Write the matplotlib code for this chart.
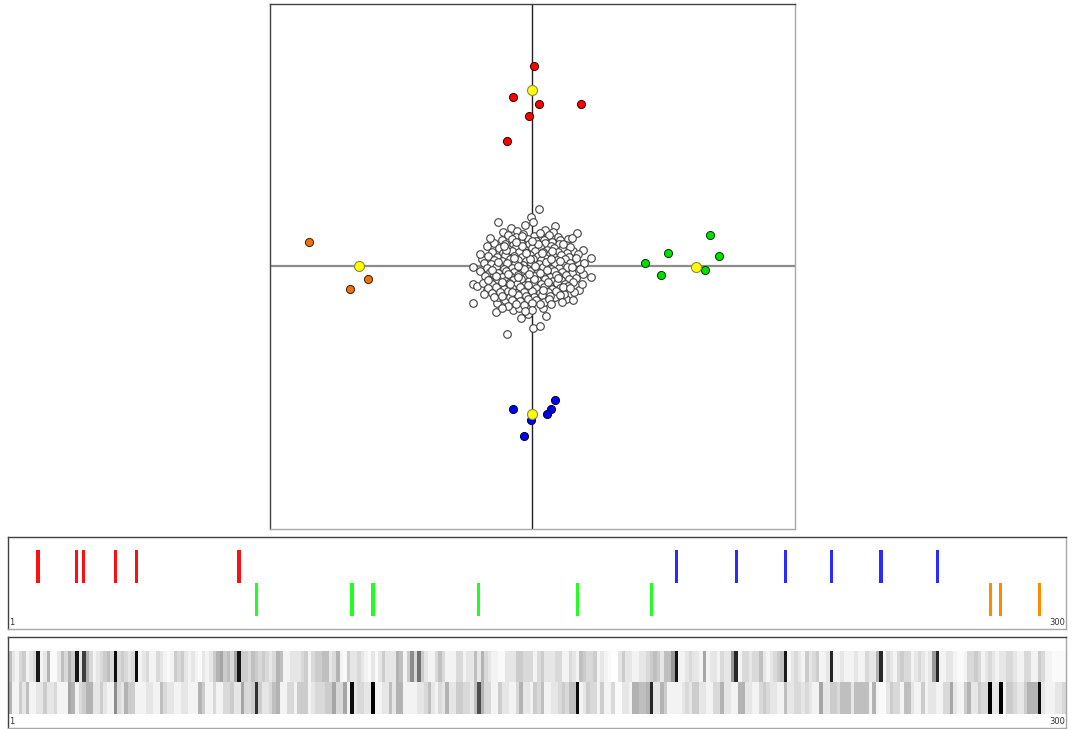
import numpy as np
import matplotlib
matplotlib.use("Agg")
import matplotlib.pyplot as plt

# ---- scatter data (score units, origin at the cross) ----
red_x = [2, -19, 7, 49, -3, -25]
red_y = [200, 169, 162, 162, 150, 125]
green_x = [113, 136, 129, 178, 187, 173]
green_y = [3, 13, -9, 31, 10, -4]
blue_x = [-19, 23, 19, 15, -1, -8]
blue_y = [-143, -134, -143, -148, -154, -170]
orange_x = [-223, -164, -182]
orange_y = [24, -13, -23]
yellow_x = [0, 164, 0, -173]
yellow_y = [176, -1, -148, 0]

cluster_pts = [
    (7, 57), (-1, 49), (1, 44), (-34, 44), (45, 33), (23, 40), (21, 34), (13, 36), (-21, 38), (-29, 34),
    (-15, 35), (-7, 41), (-45, 20), (51, 16), (59, 8), (41, 15), (33, 22), (-59, -1), (-50, 7), (-59, -18),
    (-55, -20), (-59, -37), (-35, -37), (-36, -46), (-19, -44), (-13, -42), (-4, -48), (11, -42), (1, -62), (8, -60),
    (-25, -68), (51, -8), (59, -11), (47, -24), (42, -26), (34, -33), (41, -34), (23, -31), (45, 4), (41, 6),
    (-27, -34), (-34, -31), (-45, -24),
    (-24, 31), (-16, 29), (-9, 32), (2, 30), (10, 28), (17, 31), (26, 29),
    (-30, 26), (-20, 27), (-12, 25), (-4, 27), (4, 25), (12, 26), (20, 24), (28, 26), (36, 27),
    (-38, 23), (-27, 22), (-19, 21), (-11, 23), (-3, 22), (5, 21), (13, 23), (19, 20), (27, 22), (34, 21),
    (-33, 18), (-24, 17), (-16, 19), (-8, 17), (0, 18), (8, 19), (15, 16), (22, 18), (30, 17), (38, 19),
    (-40, 14), (-29, 13), (-20, 15), (-13, 14), (-5, 13), (3, 15), (11, 14), (18, 12), (26, 14), (35, 13), (46, 12),
    (-44, 10), (-35, 9), (-27, 11), (-18, 10), (-10, 9), (-2, 11), (6, 10), (13, 8), (21, 10), (29, 11), (37, 9),
    (-38, 6), (-30, 5), (-22, 7), (-14, 6), (-6, 5), (1, 7), (9, 6), (17, 4), (25, 6), (33, 7), (52, 3),
    (-48, 3), (-41, 2), (-33, 1), (-25, 3), (-17, 2), (-9, 1), (-1, 3), (7, 2), (15, 0), (23, 2), (31, 1), (38, 3),
    (-45, -2), (-36, -1), (-28, -3), (-20, -2), (-12, -1), (-4, -3), (4, -2), (11, -1), (19, -3), (27, -2), (35, -1), (48, -3),
    (-52, -5), (-42, -6), (-34, -7), (-26, -5), (-18, -6), (-10, -7), (-2, -5), (6, -6), (14, -8), (22, -5), (30, -6), (40, -7),
    (-47, -10), (-38, -9), (-30, -11), (-22, -10), (-14, -9), (-6, -11), (2, -10), (10, -9), (18, -11), (26, -10), (34, -9), (44, -12),
    (-43, -14), (-35, -13), (-27, -15), (-19, -14), (-11, -13), (-3, -15), (5, -14), (13, -13), (21, -15), (29, -14), (37, -13),
    (-49, -17), (-40, -18), (-31, -19), (-23, -17), (-15, -18), (-7, -19), (1, -17), (9, -18), (17, -19), (25, -17), (33, -18), (41, -16),
    (-44, -22), (-36, -21), (-28, -23), (-20, -22), (-12, -21), (-4, -23), (4, -22), (12, -21), (20, -23), (28, -22), (36, -20),
    (-40, -27), (-32, -26), (-24, -25), (-16, -27), (-8, -26), (0, -25), (8, -27), (16, -26), (24, -25), (32, -28),
    (-30, -30), (-22, -31), (-14, -29), (-6, -30), (2, -31), (10, -29), (18, -30), (28, -29),
    (-20, -34), (-12, -35), (-4, -33), (4, -34), (12, -36), (17, -33),
    (-16, -38), (-8, -39), (0, -37), (8, -38), (-24, -40),
    (-26, 16), (-10, 20), (6, 22), (20, 15), (-34, 4), (-18, 8), (-2, 7), (14, 4), (28, 5), (-40, -4),
    (-24, -8), (-8, -3), (8, -7), (24, -9), (40, -1), (-30, -16), (-14, -11), (2, -13), (16, -16), (31, -21),
    (-20, -26), (-4, -19), (11, -24), (-36, -10), (19, 7), (-6, 13), (-14, 0), (3, 0), (26, -12), (-22, -18),
    (10, 13), (-28, 20), (31, 22), (-44, -14), (44, 8), (-16, 24), (0, 25), (15, -4), (-3, -8), (-10, 30),
    (8, 33), (-38, -31), (38, -22), (-52, 12), (50, -18), (0, -44), (-7, -45), (19, -38), (30, -36), (-30, -42),
    (-42, 28), (40, 28), (-11, -52), (14, -50), (-48, -28),
]

# ---- sequence positions (0-based, 300 items) ----
n_items = 300
red_idx = [8, 19, 21, 30, 36, 65]
green_idx = [70, 97, 103, 133, 161, 182]
blue_idx = [189, 206, 220, 233, 247, 263]
orange_idx = [278, 281, 292]

# ---- heatmap intensities (0 = white, 1 = black) ----
heat_top = [
    0.25, 0.1, 0.05, 0.15, 0.2, 0.05, 0.1, 0.15, 0.9, 0.05,
    0.1, 0.3, 0.02, 0.02, 0.1, 0.25, 0.15, 0.3, 0.2, 0.92,
    0.1, 0.75, 0.3, 0.15, 0.05, 0.1, 0.15, 0.2, 0.25, 0.15,
    0.95, 0.15, 0.2, 0.15, 0.1, 0.15, 0.95, 0.05, 0.1, 0.15,
    0.05, 0.05, 0.15, 0.1, 0.05, 0.02, 0.05, 0.2, 0.15, 0.2,
    0.1, 0.05, 0.1, 0.05, 0.02, 0.1, 0.05, 0.1, 0.2, 0.3,
    0.35, 0.2, 0.25, 0.15, 0.35, 0.92, 0.2, 0.2, 0.15, 0.25,
    0.2, 0.15, 0.2, 0.15, 0.1,
    0.15, 0.3, 0.25, 0.05, 0.05, 0.1, 0.1, 0.1, 0.15, 0.2,
    0.05, 0.15, 0.2, 0.2, 0.25, 0.25, 0.1, 0.15, 0.3, 0.05,
    0.02, 0.2, 0.1, 0.1, 0.15, 0.1, 0.05, 0.02, 0.1, 0.02,
    0.1, 0.2, 0.1, 0.1, 0.1, 0.3, 0.25, 0.05, 0.2, 0.45,
    0.15, 0.55, 0.2, 0.1, 0.05, 0.05, 0.15, 0.25, 0.15, 0.05,
    0.05, 0.05, 0.15, 0.15, 0.05, 0.1, 0.1, 0.25, 0.1, 0.3,
    0.15, 0.1, 0.05, 0.05, 0.02, 0.02, 0.1, 0.1, 0.1, 0.2,
    0.2, 0.15, 0.15, 0.15, 0.05,
    0.15, 0.2, 0.1, 0.1, 0.1, 0.15, 0.15, 0.05, 0.05, 0.15,
    0.1, 0.05, 0.25, 0.2, 0.15, 0.15, 0.2, 0.05, 0.1, 0.05,
    0.02, 0.0, 0.0, 0.1, 0.2, 0.1, 0.1, 0.05, 0.05, 0.1,
    0.1, 0.15, 0.2, 0.25, 0.2, 0.1, 0.25, 0.25, 0.4, 0.92,
    0.05, 0.05, 0.1, 0.15, 0.1, 0.1, 0.05, 0.35, 0.05, 0.1,
    0.1, 0.05, 0.15, 0.1, 0.1, 0.4, 0.85, 0.05, 0.15, 0.15,
    0.1, 0.15, 0.15, 0.25, 0.1, 0.05, 0.1, 0.15, 0.2, 0.25,
    0.9, 0.05, 0.1, 0.15, 0.1,
    0.05, 0.2, 0.1, 0.15, 0.2, 0.05, 0.05, 0.1, 0.85, 0.05,
    0.05, 0.1, 0.05, 0.05, 0.05, 0.1, 0.05, 0.05, 0.15, 0.1,
    0.1, 0.3, 0.85, 0.05, 0.15, 0.1, 0.05, 0.15, 0.2, 0.15,
    0.15, 0.05, 0.1, 0.15, 0.1, 0.05, 0.1, 0.4, 0.85, 0.05,
    0.05, 0.1, 0.1, 0.05, 0.02, 0.02, 0.05, 0.15, 0.15, 0.2,
    0.15, 0.05, 0.1, 0.15, 0.1, 0.05, 0.1, 0.1, 0.15, 0.15,
    0.1, 0.05, 0.05, 0.15, 0.15, 0.05, 0.05, 0.2, 0.15, 0.05,
    0.05, 0.02, 0.02, 0.02, 0.02,
]
heat_bottom = [
    0.3, 0.05, 0.05, 0.2, 0.1, 0.25, 0.05, 0.05, 0.1, 0.1,
    0.2, 0.1, 0.1, 0.15, 0.05, 0.05, 0.05, 0.35, 0.3, 0.05,
    0.15, 0.2, 0.3, 0.3, 0.1, 0.1, 0.2, 0.1, 0.05, 0.05,
    0.45, 0.15, 0.1, 0.3, 0.2, 0.2, 0.05, 0.05, 0.05, 0.1,
    0.1, 0.05, 0.05, 0.25, 0.15, 0.1, 0.1, 0.05, 0.05, 0.1,
    0.1, 0.05, 0.05, 0.05, 0.3, 0.2, 0.05, 0.05, 0.15, 0.05,
    0.05, 0.15, 0.15, 0.2, 0.1, 0.1, 0.35, 0.15, 0.15, 0.2,
    0.8, 0.2, 0.1, 0.1, 0.15,
    0.25, 0.3, 0.05, 0.05, 0.15, 0.15, 0.05, 0.2, 0.2, 0.2,
    0.05, 0.1, 0.15, 0.15, 0.15, 0.2, 0.2, 0.35, 0.15, 0.15,
    0.35, 0.05, 0.95, 0.1, 0.15, 0.15, 0.1, 0.1, 1.0, 0.05,
    0.05, 0.1, 0.1, 0.25, 0.1, 0.3, 0.3, 0.05, 0.05, 0.05,
    0.05, 0.1, 0.1, 0.15, 0.25, 0.1, 0.05, 0.15, 0.1, 0.3,
    0.1, 0.1, 0.2, 0.2, 0.15, 0.15, 0.1, 0.25, 0.7, 0.3,
    0.15, 0.15, 0.05, 0.05, 0.2, 0.1, 0.1, 0.05, 0.05, 0.15,
    0.3, 0.1, 0.1, 0.05, 0.2,
    0.15, 0.25, 0.05, 0.05, 0.1, 0.1, 0.15, 0.2, 0.15, 0.25,
    0.25, 0.95, 0.05, 0.1, 0.2, 0.15, 0.15, 0.05, 0.2, 0.05,
    0.05, 0.15, 0.02, 0.02, 0.1, 0.1, 0.05, 0.3, 0.3, 0.25,
    0.25, 0.3, 0.85, 0.1, 0.1, 0.3, 0.2, 0.05, 0.05, 0.05,
    0.05, 0.1, 0.15, 0.1, 0.2, 0.2, 0.1, 0.1, 0.05, 0.05,
    0.15, 0.15, 0.3, 0.1, 0.1, 0.05, 0.05, 0.3, 0.3, 0.1,
    0.1, 0.05, 0.05, 0.15, 0.2, 0.15, 0.1, 0.1, 0.05, 0.05,
    0.25, 0.1, 0.1, 0.15, 0.15,
    0.1, 0.15, 0.1, 0.05, 0.05, 0.35, 0.1, 0.1, 0.2, 0.2,
    0.15, 0.25, 0.25, 0.25, 0.1, 0.25, 0.25, 0.25, 0.25, 0.05,
    0.3, 0.05, 0.02, 0.02, 0.1, 0.2, 0.15, 0.15, 0.05, 0.25,
    0.25, 0.1, 0.05, 0.05, 0.2, 0.05, 0.1, 0.1, 0.05, 0.05,
    0.15, 0.15, 0.35, 0.1, 0.05, 0.05, 0.2, 0.3, 0.1, 0.1,
    0.2, 0.15, 0.15, 1.0, 0.1, 0.1, 1.0, 0.05, 0.2, 0.2,
    0.15, 0.1, 0.1, 0.2, 0.3, 0.3, 0.3, 0.95, 0.1, 0.05,
    0.05, 0.05, 0.1, 0.1, 0.15,
]


def panel_frame(ax):
    ax.set_xticks([])
    ax.set_yticks([])
    for side in ("top", "left"):
        ax.spines[side].set_color("#404040")
    for side in ("bottom", "right"):
        ax.spines[side].set_color("#a8a8a8")
    for sp in ax.spines.values():
        sp.set_linewidth(1.0)


def main():
    W, H = 1074, 729
    fig = plt.figure(figsize=(W / 100, H / 100), dpi=100)

    # scatter panel
    ax = fig.add_axes([270 / W, 1 - 529 / H, 525 / W, 525 / H])
    ax.set_xlim(-262, 263)
    ax.set_ylim(-263, 262)
    panel_frame(ax)
    ax.axhline(0, color="#8c8c8c", lw=1.6, zorder=1)
    ax.axvline(0, color="#202020", lw=1.0, zorder=1)
    pts = np.array(cluster_pts)
    ax.scatter(pts[:, 0], pts[:, 1], s=30, facecolor="white", edgecolor="#404040", linewidth=0.8, zorder=2)
    ax.scatter(red_x, red_y, s=34, facecolor="#ff0000", edgecolor="#3a0000", linewidth=0.7, zorder=3)
    ax.scatter(green_x, green_y, s=34, facecolor="#00e000", edgecolor="#003a00", linewidth=0.7, zorder=3)
    ax.scatter(blue_x, blue_y, s=34, facecolor="#0000ee", edgecolor="#00003a", linewidth=0.7, zorder=3)
    ax.scatter(orange_x, orange_y, s=34, facecolor="#f07010", edgecolor="#3a2000", linewidth=0.7, zorder=3)
    ax.scatter(yellow_x, yellow_y, s=52, facecolor="#ffff00", edgecolor="#8a8a40", linewidth=0.8, zorder=4)

    # stick panel
    ax2 = fig.add_axes([8 / W, 1 - 629 / H, 1058 / W, 92 / H])
    ax2.set_xlim(0, n_items)
    ax2.set_ylim(0, 92)
    panel_frame(ax2)
    for idx, color, base in [(red_idx, "#ff1010", 46), (blue_idx, "#2a2aff", 46),
                             (green_idx, "#20ff20", 13), (orange_idx, "#ff8a00", 13)]:
        ax2.bar(np.array(idx) + 0.5, 33, bottom=base, width=0.95, color=color, linewidth=0)
    ax2.text(0.001, 0.02, "1", transform=ax2.transAxes, ha="left", va="bottom", fontsize=6, color="#333333")
    ax2.text(0.999, 0.02, "300", transform=ax2.transAxes, ha="right", va="bottom", fontsize=6, color="#333333")

    # heatmap panel
    ax3 = fig.add_axes([8 / W, 1 - 728 / H, 1058 / W, 91 / H])
    ax3.set_xlim(0, n_items)
    ax3.set_ylim(0, 91)
    panel_frame(ax3)
    grid = np.array([heat_top, heat_bottom])
    ax3.imshow(grid, cmap="gray_r", vmin=0, vmax=1, aspect="auto",
               extent=(0, n_items, 14, 77), interpolation="nearest")
    ax3.text(0.001, 0.02, "1", transform=ax3.transAxes, ha="left", va="bottom", fontsize=6, color="#333333")
    ax3.text(0.999, 0.02, "300", transform=ax3.transAxes, ha="right", va="bottom", fontsize=6, color="#333333")

    fig.savefig("out.png", dpi=100)


if __name__ == "__main__":
    main()
